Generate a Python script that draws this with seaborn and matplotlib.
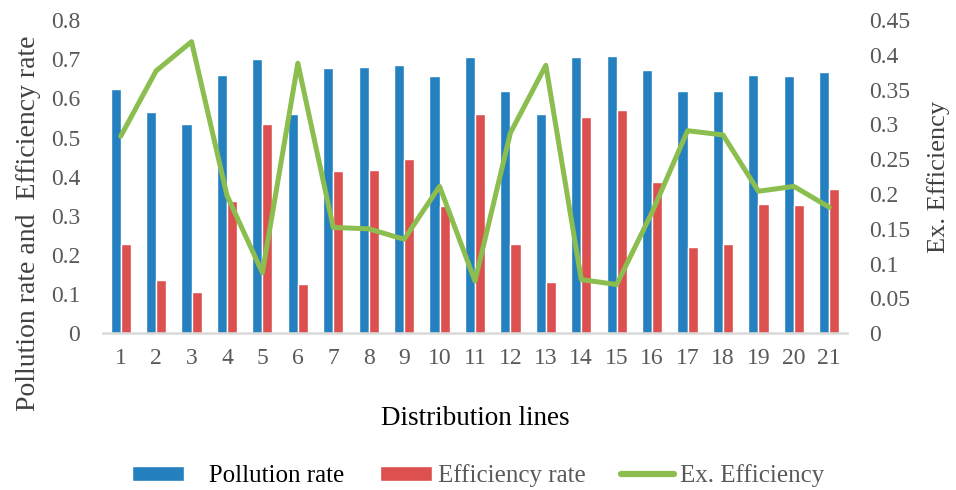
import numpy as np
import pandas as pd
import matplotlib
matplotlib.use("Agg")
import matplotlib.pyplot as plt
from matplotlib.patches import Patch
from matplotlib.lines import Line2D
import seaborn as sns

# --- data ---
lines = [str(i) for i in range(1, 22)]
pollution_rate = [0.625, 0.566, 0.535, 0.660, 0.700, 0.559, 0.677, 0.681, 0.684, 0.656, 0.705,
                  0.618, 0.559, 0.705, 0.708, 0.673, 0.618, 0.618, 0.660, 0.656, 0.667]
efficiency_rate = [0.229, 0.137, 0.106, 0.338, 0.535, 0.126, 0.414, 0.418, 0.445, 0.324, 0.559,
                   0.227, 0.130, 0.552, 0.570, 0.386, 0.220, 0.227, 0.331, 0.327, 0.369]
ex_efficiency = [0.283, 0.377, 0.419, 0.198, 0.087, 0.388, 0.152, 0.150, 0.135, 0.211, 0.075,
                 0.288, 0.385, 0.077, 0.070, 0.174, 0.291, 0.285, 0.204, 0.211, 0.181]

series_names = ["Pollution rate", "Efficiency rate"]
palette = {"Pollution rate": "#2580c0", "Efficiency rate": "#dd5050"}
green = "#8bbd4f"

df = pd.DataFrame({
    "line": lines * 2,
    "series": [series_names[0]] * len(lines) + [series_names[1]] * len(lines),
    "value": pollution_rate + efficiency_rate,
})

sns.set_style("white")
plt.rcParams["font.family"] = ["Liberation Serif", "DejaVu Serif"]

tick_color = "#595959"

fig = plt.figure(figsize=(9.56, 4.9), dpi=100)
ax = fig.add_axes([0.1077, 0.320, 0.7783, 0.639])

sns.barplot(data=df, x="line", y="value", hue="series", palette=palette,
            width=0.57, gap=0, saturation=1, ax=ax, legend=False)
ax.set_ylim(0, 0.8)
ax.set_yticks(np.arange(0, 0.81, 0.1))
ax.set_yticklabels(["0"] + [f"{v:.1f}" for v in np.arange(0.1, 0.81, 0.1)])
ax.set_xlim(-0.5, len(lines) - 0.5)

# secondary axis for Ex. Efficiency
ax2 = ax.twinx()
sns.lineplot(x=np.arange(len(lines)), y=ex_efficiency, color=green, linewidth=3.6, ax=ax2)
ax2.set_ylim(0, 0.45)
ax2.set_yticks(np.arange(0, 0.451, 0.05))
ax2.set_yticklabels(["0"] + [f"{v:.2f}".rstrip("0") for v in np.arange(0.05, 0.451, 0.05)])

for a in (ax, ax2):
    for s in a.spines.values():
        s.set_visible(False)
    a.tick_params(length=0, labelsize=17, labelcolor=tick_color)
ax.spines["bottom"].set_visible(True)
ax.spines["bottom"].set_color("#d9d9d9")
ax.spines["bottom"].set_linewidth(1.8)
ax.tick_params(axis="x", pad=11)
ax.tick_params(axis="y", pad=16.5)
ax2.tick_params(axis="y", pad=16)

ax.set_xlabel("Distribution lines", fontsize=19.5, color="black", labelpad=26)
ax.set_ylabel("Pollution rate and  Efficiency rate", fontsize=20, color="#404040")
ax.yaxis.set_label_coords(-0.083, 0.35)
ax2.set_ylabel("Ex. Efficiency", fontsize=19, color="#404040")
ax2.yaxis.set_label_coords(1.108, 0.5)

handles = [
    Patch(facecolor=palette["Pollution rate"], label="   Pollution rate"),
    Patch(facecolor=palette["Efficiency rate"], label="Efficiency rate"),
    Line2D([0], [0], color=green, linewidth=4.5, label="Ex. Efficiency"),
]
fig.legend(handles=handles, loc="center", bbox_to_anchor=(0.5, 1 - 476 / 490), ncol=3,
           frameon=False, fontsize=18, handlelength=2.1, handleheight=0.5, handletextpad=0.25,
           columnspacing=1.4, labelcolor=["black", tick_color, tick_color])

fig.savefig("out.png", dpi=100)
